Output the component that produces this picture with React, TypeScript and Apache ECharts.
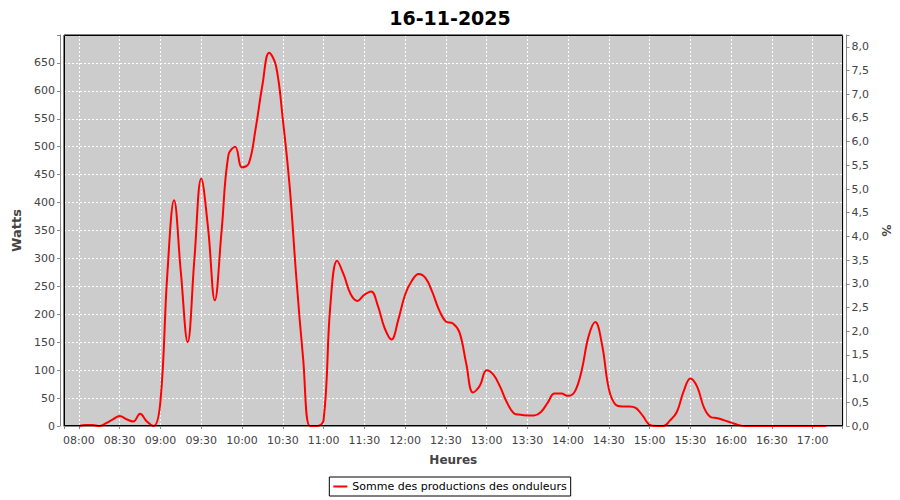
import React, { useEffect, useRef } from 'react';
import * as echarts from 'echarts';

const chartTitle = '16-11-2025';
const seriesName = 'Somme des productions des onduleurs';
const xAxisName = 'Heures';
const leftAxisName = 'Watts';
const rightAxisName = '%';

const times = [
  '08:00', '08:05', '08:10', '08:15', '08:20', '08:25', '08:30', '08:35', '08:40', '08:45', '08:50', '08:55',
  '09:00', '09:05', '09:10', '09:15', '09:20', '09:25', '09:30', '09:35', '09:40', '09:45', '09:50', '09:55',
  '10:00', '10:05', '10:10', '10:15', '10:20', '10:25', '10:30', '10:35', '10:40', '10:45', '10:50', '10:55',
  '11:00', '11:05', '11:10', '11:15', '11:20', '11:25', '11:30', '11:35', '11:40', '11:45', '11:50', '11:55',
  '12:00', '12:05', '12:10', '12:15', '12:20', '12:25', '12:30', '12:35', '12:40', '12:45', '12:50', '12:55',
  '13:00', '13:05', '13:10', '13:15', '13:20', '13:25', '13:30', '13:35', '13:40', '13:45', '13:50', '13:55',
  '14:00', '14:05', '14:10', '14:15', '14:20', '14:25', '14:30', '14:35', '14:40', '14:45', '14:50', '14:55',
  '15:00', '15:05', '15:10', '15:15', '15:20', '15:25', '15:30', '15:35', '15:40', '15:45', '15:50', '15:55',
  '16:00', '16:05', '16:10', '16:15', '16:20', '16:25', '16:30', '16:35', '16:40', '16:45', '16:50', '16:55',
  '17:00', '17:05', '17:10',
];

const watts = [
  0, 2, 2, 0, 5, 12, 18, 12, 8, 22, 8, 0,
  45, 270, 404, 275, 150, 300, 443, 355, 225, 350, 485, 500,
  463, 470, 532, 610, 668, 645, 550, 431, 265, 120, 0, 0,
  10, 215, 296, 270, 236, 224, 235, 241, 215, 175, 155, 190,
  235, 260, 272, 265, 240, 208, 187, 184, 168, 112, 60, 72,
  100, 92, 70, 42, 23, 20, 19, 19, 25, 42, 58, 58,
  54, 62, 100, 160, 186, 145, 66, 38, 35, 35, 32, 18,
  2, 0, 0, 10, 25, 62, 85, 70, 33, 16, 14, 10,
  6, 2, 0, 0, 0, 0, 0, 0, 0, 0, 0, 0,
  0, 0, 0,
];

const xRange = ['07:49', '17:22'];
const xTickStepMinutes = 30;
const wattsRange = [0, 700];
const wattsStep = 50;
const pctRange = [0, 8.25];
const pctStep = 0.5;

const FONT = 'DejaVu Sans';
const GRID = { left: 64, right: 57, top: 35, bottom: 74 };

function toMinutes(s: string): number {
  const [h, m] = s.split(':').map(Number);
  return h * 60 + m;
}
function pad(n: number): string {
  return n < 10 ? '0' + n : String(n);
}

export default function App() {
  const ref = useRef<HTMLDivElement>(null);
  useEffect(() => {
    if (!ref.current) return;
    const chart = echarts.init(ref.current, null, { renderer: 'svg' });
    const data = times.map((t, i) => [toMinutes(t), watts[i]]);
    const W = 900;
    const H = 500;
    chart.setOption({
      animation: false,
      backgroundColor: '#ffffff',
      title: {
        text: chartTitle,
        left: 'center',
        top: 3,
        textStyle: { fontFamily: FONT, fontSize: 19, fontWeight: 'bold', color: '#000' },
      },
      legend: {
        data: [seriesName],
        left: 'center',
        top: 477,
        padding: [4, 4, 4, 4],
        borderColor: '#000',
        borderWidth: 1,
        borderRadius: 0,
        icon: 'rect',
        itemWidth: 14,
        itemHeight: 2,
        itemGap: 4,
        textStyle: { fontFamily: FONT, fontSize: 11, color: '#000' },
      },
      grid: {
        ...GRID,
        show: true,
        backgroundColor: '#cccccc',
        borderColor: '#000',
        borderWidth: 1,
      },
      graphic: [
        {
          type: 'rect',
          z: 100,
          silent: true,
          shape: {
            x: GRID.left + 0.5,
            y: GRID.top + 0.5,
            width: W - GRID.left - GRID.right - 1,
            height: H - GRID.top - GRID.bottom - 1,
          },
          style: { fill: 'none', stroke: '#000', lineWidth: 1 },
        },
      ],
      xAxis: {
        type: 'value',
        min: toMinutes(xRange[0]),
        max: toMinutes(xRange[1]),
        minInterval: xTickStepMinutes,
        maxInterval: xTickStepMinutes,
        offset: 4,
        name: xAxisName,
        nameLocation: 'middle',
        nameGap: 24,
        nameTextStyle: { fontFamily: FONT, fontSize: 12, fontWeight: 'bold', color: '#444' },
        axisLine: { show: true, lineStyle: { color: '#888', width: 1 } },
        axisTick: { show: true, length: 3, lineStyle: { color: '#888' } },
        axisLabel: {
          margin: 5,
          fontFamily: FONT,
          fontSize: 11,
          color: '#444',
          formatter: (v: number) => {
            if (Math.abs(v % xTickStepMinutes) > 0.001) return '';
            return pad(Math.floor(v / 60)) + ':' + pad(Math.round(v % 60));
          },
        },
        splitLine: { show: true, lineStyle: { color: '#ffffff', type: [2, 2], width: 1 } },
      },
      yAxis: [
        {
          type: 'value',
          min: wattsRange[0],
          max: wattsRange[1],
          interval: wattsStep,
          offset: 4,
          position: 'left',
          name: leftAxisName,
          nameLocation: 'middle',
          nameGap: 30,
          nameTextStyle: { fontFamily: FONT, fontSize: 13, fontWeight: 'bold', color: '#444' },
          axisLine: { show: true, lineStyle: { color: '#888', width: 1 } },
          axisTick: { show: true, length: 3, lineStyle: { color: '#888' } },
          axisLabel: {
            margin: 5,
            fontFamily: FONT,
            fontSize: 11,
            color: '#444',
            formatter: (v: number) => (v >= wattsRange[1] ? '' : String(v)),
          },
          splitLine: { show: true, lineStyle: { color: '#ffffff', type: [2, 2], width: 1 } },
        },
        {
          type: 'value',
          min: pctRange[0],
          max: pctRange[1],
          interval: pctStep,
          offset: 4,
          position: 'right',
          name: rightAxisName,
          nameLocation: 'middle',
          nameGap: 26,
          nameRotate: -90,
          nameTextStyle: { fontFamily: FONT, fontSize: 12, fontWeight: 'bold', color: '#444' },
          axisLine: { show: true, lineStyle: { color: '#888', width: 1 } },
          axisTick: { show: true, length: 3, lineStyle: { color: '#888' } },
          axisLabel: {
            margin: 5,
            fontFamily: FONT,
            fontSize: 11,
            color: '#444',
            formatter: (v: number) => {
              const r = Math.round(v / pctStep) * pctStep;
              if (Math.abs(r - v) > 1e-6) return '';
              return v.toFixed(1).replace('.', ',');
            },
          },
          splitLine: { show: false },
        },
      ],
      series: [
        {
          name: seriesName,
          type: 'line',
          yAxisIndex: 0,
          data,
          smooth: 0.4,
          showSymbol: false,
          symbol: 'none',
          clip: true,
          lineStyle: { color: '#ff0000', width: 2 },
          itemStyle: { color: '#ff0000' },
        },
      ],
    });
    return () => chart.dispose();
  }, []);
  return <div ref={ref} style={{ width: 900, height: 500, position: 'absolute', left: 0, top: 0 }} />;
}
